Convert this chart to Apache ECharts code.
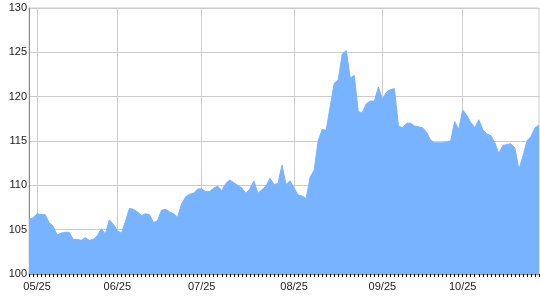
<!DOCTYPE html>
<html>
<head>
<meta charset="utf-8">
<script src="https://cdn.jsdelivr.net/npm/echarts@6/dist/echarts.min.js"></script>
<style>html,body{margin:0;padding:0;background:#fff}#c{width:540px;height:300px}</style>
</head>
<body>
<div id="c"></div>
<script>
const values = [
106.2,106.3,106.8,106.7,106.7,105.8,105.4,104.4,104.6,104.7,
104.7,103.9,103.9,103.8,104.1,103.8,103.9,104.3,105.1,104.5,
106.1,105.6,104.9,104.6,105.9,107.4,107.3,107.0,106.6,106.8,
106.7,105.8,106.0,107.2,107.3,107.0,106.8,106.4,107.9,108.7,
109.0,109.1,109.6,109.6,109.3,109.3,109.7,109.9,109.4,110.2,
110.6,110.3,110.0,109.7,109.1,109.6,110.5,109.1,109.5,109.9,
110.8,110.1,110.2,112.3,110.1,110.5,109.7,108.9,108.8,108.5,
110.9,111.7,115.0,116.3,116.2,118.9,121.5,121.9,124.8,125.2,
122.1,122.4,118.3,118.2,119.2,119.5,119.5,121.1,119.7,120.5,
120.8,120.9,116.7,116.5,117.0,117.0,116.7,116.6,116.5,116.0,
115.1,114.8,114.8,114.8,114.9,115.0,117.2,116.3,118.5,117.9,
117.1,116.5,117.4,116.3,115.8,115.6,114.8,113.6,114.5,114.6,
114.7,114.2,111.8,113.3,115.0,115.5,116.5,116.8
];
const tickLabels = ['05/25','06/25','07/25','08/25','09/25','10/25'];
const tickIndex = [2,22,43,66,88,108];
const yTicks = [100,105,110,115,120,125,130];

const categories = values.map((v,i)=>'p' + i);
const isTick = (i)=> tickIndex.indexOf(i) >= 0;
const labelOf = (i)=> { const k = tickIndex.indexOf(i); return k >= 0 ? tickLabels[k] : ''; };

const chart = echarts.init(document.getElementById('c'), null, {renderer:'canvas'});
chart.setOption({
  animation:false,
  grid:{left:29,right:1,top:8,bottom:26,show:true,borderColor:'#cccccc',borderWidth:1},
  xAxis:[{
    type:'category',
    data:categories,
    boundaryGap:false,
    axisLine:{lineStyle:{color:'#888888',width:1}},
    axisTick:{show:false},
    axisLabel:{interval:(i)=>isTick(i),formatter:(v,i)=>labelOf(i),margin:7,color:'#222222',fontFamily:'Liberation Sans',fontSize:11},
    splitLine:{show:true,interval:(i)=>isTick(i),lineStyle:{color:'#cccccc',width:1}}
  },{
    type:'value',
    position:'bottom',
    min:0,
    max:values.length-1,
    interval:1,
    axisLine:{show:false},
    axisTick:{show:true,inside:false,length:3,lineStyle:{color:'#000000',width:1}},
    axisLabel:{show:false},
    splitLine:{show:false}
  }],
  yAxis:{
    type:'value',
    min:yTicks[0],max:yTicks[yTicks.length-1],interval:5,
    axisLine:{show:true,lineStyle:{color:'#888888'}},
    axisTick:{show:false},
    axisLabel:{margin:2,color:'#222222',fontFamily:'Liberation Sans',fontSize:11},
    splitLine:{show:true,lineStyle:{color:'#cccccc',width:1}}
  },
  series:[{
    type:'line',
    xAxisIndex:0,
    data:values,
    showSymbol:false,
    symbol:'none',
    lineStyle:{width:1,color:'#77b3ff'},
    itemStyle:{color:'#77b3ff'},
    areaStyle:{color:'#77b3ff',opacity:1}
  }]
});
</script>
</body>
</html>
